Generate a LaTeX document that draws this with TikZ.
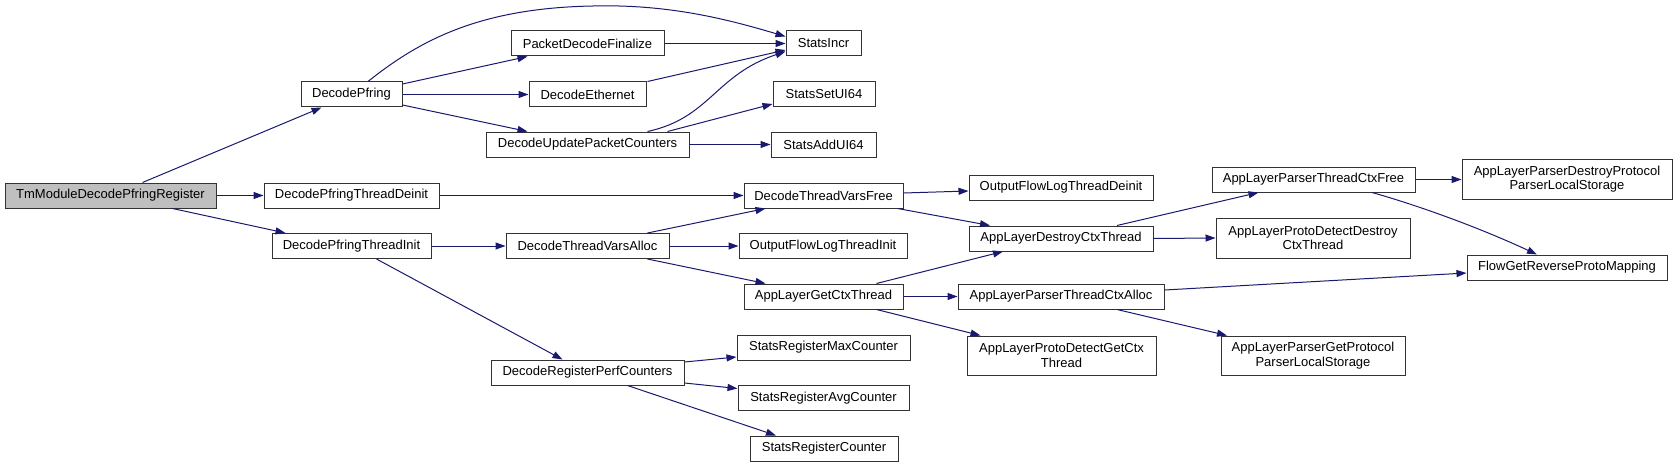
\documentclass[tikz,border=0pt]{standalone}
\usepackage{fontspec}
\setmainfont{Liberation Sans}
\usetikzlibrary{arrows.meta}
\definecolor{edgec}{HTML}{191970}
\definecolor{rootfill}{HTML}{BFBFBF}
\begin{document}
\begin{tikzpicture}[x=1pt,y=-1pt,
  box/.style={draw=black!80, line width=1pt, fill=white, inner sep=0pt, minimum height=25pt, align=center, font=\fontsize{13}{14.5}\selectfont},
  box2/.style={box, minimum height=39pt},
  edge/.style={draw=edgec, line width=1pt, -{Triangle[length=10pt,width=7pt]}}]
\useasboundingbox (0,0) rectangle (1677,468);
% nodes
\node[box, fill=rootfill, minimum width=211pt] (A) at (110.5,195.5) {TmModuleDecodePfringRegister};
\node[box, minimum width=101pt] (B) at (351.5,94.5) {DecodePfring};
\node[box, minimum width=175pt] (C) at (351.5,195.5) {DecodePfringThreadDeinit};
\node[box, minimum width=159pt] (D) at (351.5,246) {DecodePfringThreadInit};
\node[box, minimum width=153pt] (E) at (587.5,43.5) {PacketDecodeFinalize};
\node[box, minimum width=117pt] (F) at (587.5,94.5) {DecodeEthernet};
\node[box, minimum width=203pt] (G) at (587.5,144.5) {DecodeUpdatePacketCounters};
\node[box, minimum width=163pt] (H) at (587.5,246) {DecodeThreadVarsAlloc};
\node[box, minimum width=193pt] (I) at (587.5,372.5) {DecodeRegisterPerfCounters};
\node[box, minimum width=75pt] (J) at (823.5,43.5) {StatsIncr};
\node[box, minimum width=102pt] (K) at (824,94) {StatsSetUI64};
\node[box, minimum width=105pt] (L) at (823.5,144.5) {StatsAddUI64};
\node[box, minimum width=159pt] (M) at (823.5,195.5) {DecodeThreadVarsFree};
\node[box, minimum width=168pt] (N) at (823,246) {OutputFlowLogThreadInit};
\node[box, minimum width=159pt] (O) at (823.5,296.5) {AppLayerGetCtxThread};
\node[box, minimum width=173pt] (P) at (823.5,347.5) {StatsRegisterMaxCounter};
\node[box, minimum width=171pt] (Q) at (823.5,398) {StatsRegisterAvgCounter};
\node[box, minimum width=148pt] (R) at (824,448.5) {StatsRegisterCounter};
\node[box, minimum width=184pt] (S) at (1061,187.5) {OutputFlowLogThreadDeinit};
\node[box, minimum width=184pt] (T) at (1061,238.5) {AppLayerDestroyCtxThread};
\node[box, minimum width=206pt] (U) at (1061,296.5) {AppLayerParserThreadCtxAlloc};
\node[box2, minimum width=189pt] (V) at (1061.5,355.5) {AppLayerProtoDetectGetCtx\\Thread};
\node[box, minimum width=203pt] (W) at (1313.5,179.5) {AppLayerParserThreadCtxFree};
\node[box2, minimum width=194pt, minimum height=40pt] (X) at (1313,238) {AppLayerProtoDetectDestroy\\CtxThread};
\node[box2, minimum width=184pt] (Y) at (1313,355.5) {AppLayerParserGetProtocol\\ParserLocalStorage};
\node[box2, minimum width=210pt, minimum height=40pt] (Z) at (1567,179) {AppLayerParserDestroyProtocol\\ParserLocalStorage};
\node[box, minimum width=200pt] (FF) at (1567,267.5) {FlowGetReverseProtoMapping};
% edges
\draw[edge] ([xshift=32pt]A.north) -- ([xshift=-30pt]B.south);
\draw[edge] (A.east) -- (C.west);
\draw[edge] ([xshift=62pt]A.south) -- ([xshift=-66pt]D.north);
\draw[edge] ([xshift=16.5pt]B.north) .. controls (420,40) and (480,8) .. (593,6) .. controls (670,4) and (730,20) .. ([yshift=7pt]J.west);
\draw[edge] ([yshift=10.5pt]B.east) -- ([xshift=-60pt]E.south);
\draw[edge] (B.east) -- (F.west);
\draw[edge] ([yshift=-10.5pt]B.east) -- ([xshift=-60pt]G.north);
\draw[edge] (E.east) -- (J.west);
\draw[edge] ([xshift=60pt]F.north) -- ([yshift=-6.5pt]J.west);
\draw[edge] ([xshift=60pt]G.north) .. controls (710,118) and (715,75) .. ([yshift=-8pt]J.west);
\draw[edge] ([xshift=80pt]G.north) -- ([yshift=-10pt]K.west);
\draw[edge] (G.east) -- (L.west);
\draw[edge] (C.east) -- (M.west);
\draw[edge] (D.east) -- (H.west);
\draw[edge] ([xshift=25pt]D.south) -- ([xshift=-25pt]I.north);
\draw[edge] ([xshift=60pt]H.north) -- ([xshift=-58pt]M.south);
\draw[edge] (H.east) -- (N.west);
\draw[edge] ([xshift=60pt]H.south) -- ([xshift=-58pt]O.north);
\draw[edge] ([yshift=10.5pt]I.east) -- ([yshift=-9.5pt]P.west);
\draw[edge] ([yshift=-10.5pt]I.east) -- ([yshift=9.5pt]Q.west);
\draw[edge] ([xshift=40pt]I.south) -- ([xshift=-48pt]R.north);
\draw[edge] ([yshift=2.5pt]M.east) -- ([yshift=-3.5pt]S.west);
\draw[edge] ([xshift=74pt]M.south) -- ([xshift=-71pt]T.north);
\draw[edge] ([xshift=53pt]O.north) -- ([xshift=-58pt]T.south);
\draw[edge] (O.east) -- (U.west);
\draw[edge] ([xshift=53pt]O.south) -- ([xshift=-81pt]V.north);
\draw[edge] ([xshift=56pt]T.north) -- ([xshift=-55pt]W.south);
\draw[edge] (T.east) -- (X.west);
\draw[edge] ([yshift=6.5pt]U.east) -- ([yshift=-5.5pt]FF.west);
\draw[edge] ([xshift=56pt]U.south) -- ([xshift=-86pt]Y.north);
\draw[edge] (W.east) -- (Z.west |- W.east);
\draw[edge] ([xshift=58.5pt]W.south) .. controls (1420,206) and (1480,228) .. ([xshift=-30pt]FF.north);
\end{tikzpicture}
\end{document}
